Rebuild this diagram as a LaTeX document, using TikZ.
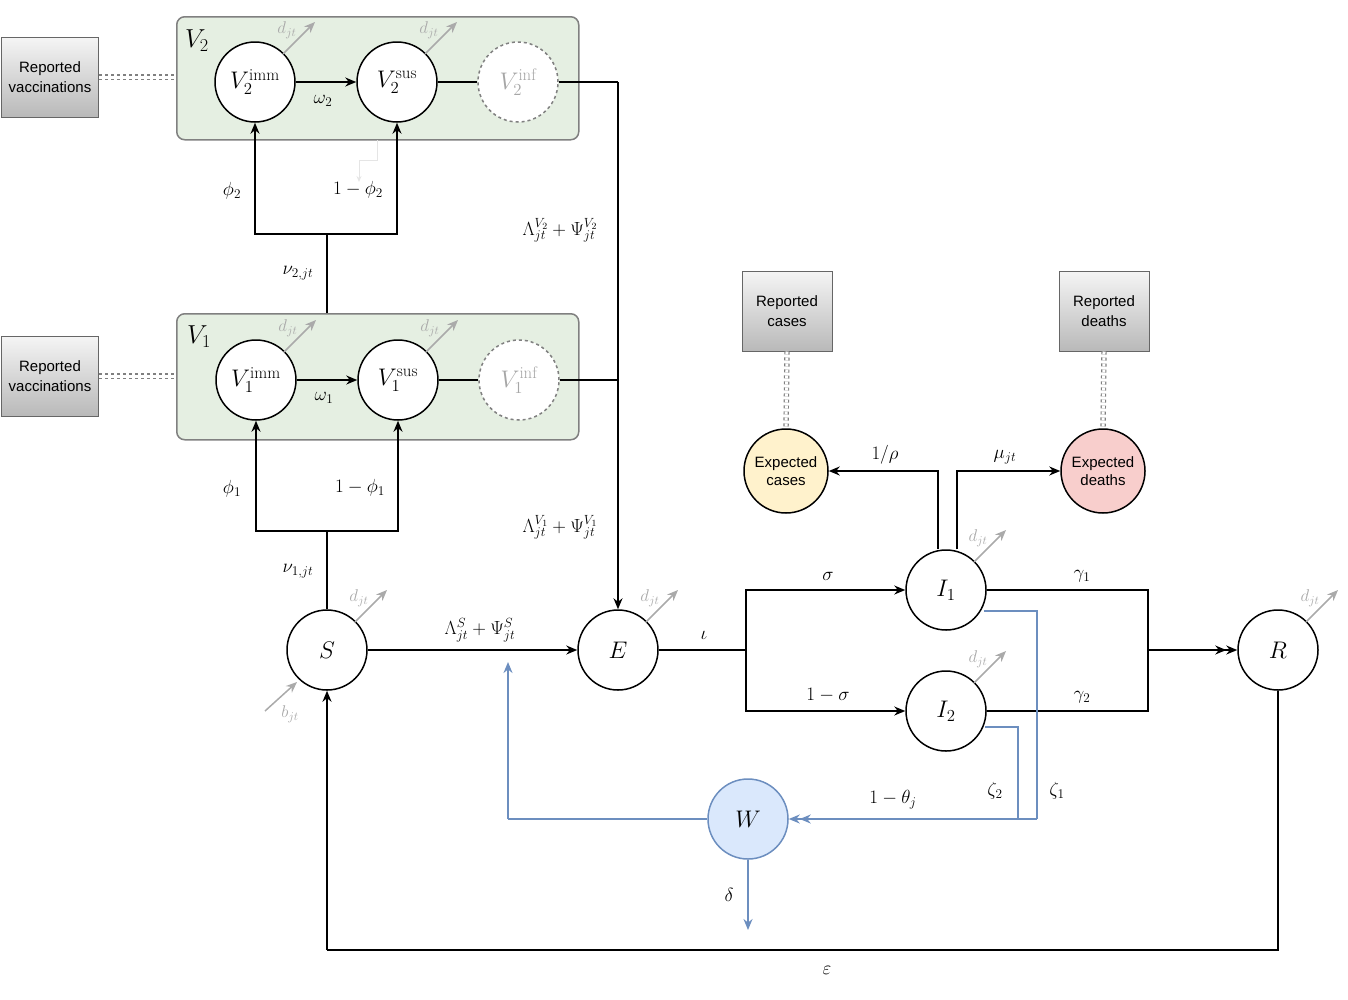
\documentclass[tikz,border=0pt]{standalone}
\usepackage{fix-cm}
\usepackage{fontspec}
\newfontfamily\sff{Liberation Sans}
\usetikzlibrary{arrows.meta,calc}
\definecolor{grn}{HTML}{E5EFE2}
\definecolor{wblue}{HTML}{DAE8FC}
\definecolor{bstroke}{HTML}{6C8EBF}
\definecolor{ycol}{HTML}{FFF2CC}
\definecolor{rcol}{HTML}{F8CECC}
\definecolor{gtxt}{HTML}{AAAAAA}
\begin{document}
\begin{tikzpicture}[x=1pt,y=-1pt,
  st/.style={circle,draw,line width=1.5pt,minimum size=80pt,inner sep=0pt,fill=white,font=\fontsize{24}{28}\selectfont},
  inf/.style={st,draw=gray,dashed,text=gray!70},
  grp/.style={draw=gray,line width=1.5pt,rounded corners=8pt,fill=grn},
  rep/.style={draw=gray!80!black,line width=1pt,top color=gray!8,bottom color=gray!55,minimum width=97pt,minimum height=80pt,align=center,font=\sff\fontsize{15}{20}\selectfont},
  ec/.style={circle,draw,line width=1.5pt,minimum size=84pt,inner sep=0pt,align=center,font=\sff\fontsize{15}{18}\selectfont},
  ln/.style={line width=1.5pt},
  ar/.style={line width=1.5pt,-{Stealth[length=11pt,width=9pt]}},
  dar/.style={line width=1.5pt,-{Stealth[length=11pt,width=9pt]Stealth[length=11pt,width=9pt]}},
  bl/.style={draw=bstroke,line width=1.8pt},
  lab/.style={font=\fontsize{19}{22}\selectfont},
  gry/.style={draw=gtxt,line width=1.5pt,-{Stealth[length=11pt,width=9pt]}},
  dbl/.style={draw=gray,line width=1.2pt,double distance=3pt,dashed}
]
\useasboundingbox (0,0) rectangle (1348,999);
\newcommand\djt[1]{\draw[gry] ($(#1)+(28,-28)$) -- ++(32,-32);
  \node[text=gtxt,font=\fontsize{17}{19}\selectfont] at ($(#1)+(32,-52)$) {$d_{jt}$};}
% groups
\node[grp,minimum width=402pt,minimum height=123pt,anchor=north west] (G2) at (176,16) {};
\node[grp,minimum width=402pt,minimum height=126pt,anchor=north west] (G1) at (176,313) {};
\node[font=\fontsize{26}{30}\selectfont] at (197,41) {$V_2$};
\node[font=\fontsize{26}{30}\selectfont] at (199,337) {$V_1$};
% faint arrow
\draw[draw=gray!20,line width=1pt,-{Stealth[length=6pt,width=5pt]}] (377,140) -- (377,160) -- (359,160) -- (359,182);
% nodes
\node[st] (V2i) at (255,82) {$V_2^{\mathrm{imm}}$};
\node[st] (V2s) at (397,82) {$V_2^{\mathrm{sus}}$};
\node[inf] (V2f) at (518,82) {$V_2^{\mathrm{inf}}$};
\node[st] (V1i) at (256,380) {$V_1^{\mathrm{imm}}$};
\node[st] (V1s) at (398,380) {$V_1^{\mathrm{sus}}$};
\node[inf] (V1f) at (519,380) {$V_1^{\mathrm{inf}}$};
\node[st] (S) at (327,650) {$S$};
\node[st] (E) at (618,650) {$E$};
\node[st] (I1) at (946,590) {$I_1$};
\node[st] (I2) at (946,711) {$I_2$};
\node[st] (R) at (1278,650) {$R$};
\node[st,fill=wblue,draw=bstroke] (W) at (748,819) {$W$};
\node[ec,fill=ycol] (EC) at (786,471) {Expected\\cases};
\node[ec,fill=rcol] (ED) at (1103,471) {Expected\\deaths};
\node[rep] (RV2) at (50,77) {Reported\\vaccinations};
\node[rep] (RV1) at (50,376) {Reported\\vaccinations};
\node[rep,minimum width=90pt] (RC) at (787,311) {Reported\\cases};
\node[rep,minimum width=90pt] (RD) at (1104,311) {Reported\\deaths};
% reporting links
\draw[dbl] (RV2.east) -- (G2.west|-RV2.east);
\draw[dbl] (RV1.east) -- (G1.west|-RV1.east);
\draw[dbl] (RC.south) -- (EC.north);
\draw[dbl] (RD.south) -- (ED.north);
% vaccine flows
\coordinate (b1) at (327,531);
\draw[ln] (S.north) -- (b1);
\draw[ar] (b1) -| (V1i.south);
\draw[ar] (b1) -| (V1s.south);
\coordinate (b2) at (327,234);
\draw[ln] (G1.north-|b2) -- (b2);
\draw[ar] (b2) -| (V2i.south);
\draw[ar] (b2) -| (V2s.south);
\draw[ar] (V2i) -- (V2s);
\draw[ar] (V1i) -- (V1s);
\draw[ln] (V2s) -- (V2f);
\draw[ln] (V1s) -- (V1f);
\coordinate (c2) at (618,82);
\coordinate (c1) at (618,380);
\draw[ln] (V2f.east) -- (c2);
\draw[ln] (V1f.east) -- (c1);
\draw[ar] (c2) -- (E.north);
\node[lab] at (298,273) {$\nu_{2,jt}$};
\node[lab] at (298,571) {$\nu_{1,jt}$};
\node[lab] at (232,191) {$\phi_2$};
\node[lab] at (358,190) {$1-\phi_2$};
\node[lab] at (232,489) {$\phi_1$};
\node[lab] at (360,488) {$1-\phi_1$};
\node[lab] at (323,101) {$\omega_2$};
\node[lab] at (324,398) {$\omega_1$};
\node[lab] at (560,230) {$\Lambda^{V_2}_{jt}+\Psi^{V_2}_{jt}$};
\node[lab] at (560,527) {$\Lambda^{V_1}_{jt}+\Psi^{V_1}_{jt}$};
% main chain
\draw[ar] (S) -- (E);
\node[lab] at (480,630) {$\Lambda^{S}_{jt}+\Psi^{S}_{jt}$};
\coordinate (e1) at (746,650);
\draw[ln] (E) -- (e1);
\node[lab] at (704,635) {$\iota$};
\draw[ar] (e1) |- (I1.west);
\draw[ar] (e1) |- (I2.west);
\node[lab] at (828,576) {$\sigma$};
\node[lab] at (828,695) {$1-\sigma$};
\coordinate (r1) at (1148,650);
\draw[ln] (I1.east) -| (r1);
\draw[ln] (I2.east) -| (r1);
\node[lab] at (1082,576) {$\gamma_1$};
\node[lab] at (1082,697) {$\gamma_2$};
\draw[dar] (r1) -- (R.west);
\draw[ar] (I1.north-|938,0) |- (EC.east);
\draw[ar] (I1.north-|957,0) |- (ED.west);
\node[lab] at (885,455) {$1/\rho$};
\node[lab] at (1005,457) {$\mu_{jt}$};
\coordinate (w1) at (1037,819);
\coordinate (w2) at (1018,819);
\draw[bl] ($(I1.center)+(38,21)$) -| (w1);
\draw[bl] ($(I2.center)+(39,16)$) -| (w2);
\node[lab] at (1057,791) {$\zeta_1$};
\node[lab] at (995,791) {$\zeta_2$};
\draw[bl,-{Stealth[length=11pt,width=9pt]Stealth[length=11pt,width=9pt]}] (w1) -- (W.east);
\node[lab] at (893,800) {$1-\theta_j$};
\coordinate (w3) at (508,819);
\coordinate (w4) at (508,662);
\draw[bl] (W.west) -- (w3);
\draw[bl,-{Stealth[length=11pt,width=9pt]}] (w3) -- (w4);
\coordinate (w5) at (748,930);
\draw[bl,-{Stealth[length=11pt,width=9pt]}] (W.south) -- (w5);
\node[lab] at (729,895) {$\delta$};
\coordinate (p1) at (1278,950);
\coordinate (p2) at (327,950);
\draw[ln] (R.south) -- (p1) -- (p2);
\node[lab] at (827,970) {$\varepsilon$};
\draw[ar] (p2) -- (S.south);
% births
\coordinate (bb) at (265,711);
\draw[gry] (bb) -- ($(S.center)+(-30,32)$);
\node[text=gtxt,font=\fontsize{17}{19}\selectfont] at (290,714) {$b_{jt}$};
% deaths
\djt{V2i}\djt{V2s}\djt{V1i}\djt{V1s}\djt{S}\djt{E}\djt{I1}\djt{I2}\djt{R}
\end{tikzpicture}
\end{document}
